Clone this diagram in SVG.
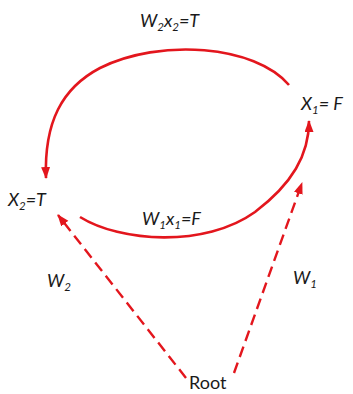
<svg xmlns="http://www.w3.org/2000/svg" width="353" height="394" viewBox="0 0 353 394">
<style>
.t{font-family:Lato,"Open Sans","Liberation Sans",sans-serif;font-size:18px;fill:#1a1a1a}
.i{font-style:italic}
.s{font-size:11.5px}
.c{fill:none;stroke:#e3161d;stroke-width:2.6}
.d{fill:none;stroke:#e3161d;stroke-width:2.4;stroke-dasharray:11 6}
</style>
<defs>
<marker id="ah" markerUnits="userSpaceOnUse" markerWidth="12" markerHeight="10" refX="11" refY="4.5" orient="auto">
<path d="M0,0 L12,4.5 L0,9 z" fill="#e3161d"/>
</marker>
</defs>
<g id="connectors">
<path class="c" d="M289,85 C255,45 160,38 100,68 C62,88 44,122 46,178" marker-end="url(#ah)"/>
<path class="c" d="M80,217 C120,242 205,248 255,212 C292,184 309,155 309,121" marker-end="url(#ah)"/>
<path class="d" d="M234,373 L302,183" marker-end="url(#ah)"/>
<path class="d" d="M186,378 L58,215" marker-end="url(#ah)"/>
</g>
<g id="label-w2x2"><text class="t i" x="140" y="27">W<tspan class="s" dy="4">2</tspan><tspan dy="-4">x</tspan><tspan class="s" dy="4">2</tspan><tspan dy="-4">=T</tspan></text></g>
<g id="node-x1"><text class="t i" x="301" y="110">X<tspan class="s" dy="4">1</tspan><tspan dy="-4">= F</tspan></text></g>
<g id="node-x2"><text class="t i" x="8" y="206">X<tspan class="s" dy="4">2</tspan><tspan dy="-4">=T</tspan></text></g>
<g id="label-w1x1"><text class="t i" x="142" y="225">W<tspan class="s" dy="4">1</tspan><tspan dy="-4">x</tspan><tspan class="s" dy="4">1</tspan><tspan dy="-4">=F</tspan></text></g>
<g id="label-w2"><text class="t i" x="47" y="287">W<tspan class="s" dy="4">2</tspan></text></g>
<g id="label-w1"><text class="t i" x="293" y="284">W<tspan class="s" dy="4">1</tspan></text></g>
<g id="node-root"><text class="t" x="189" y="389">Root</text></g>
</svg>
